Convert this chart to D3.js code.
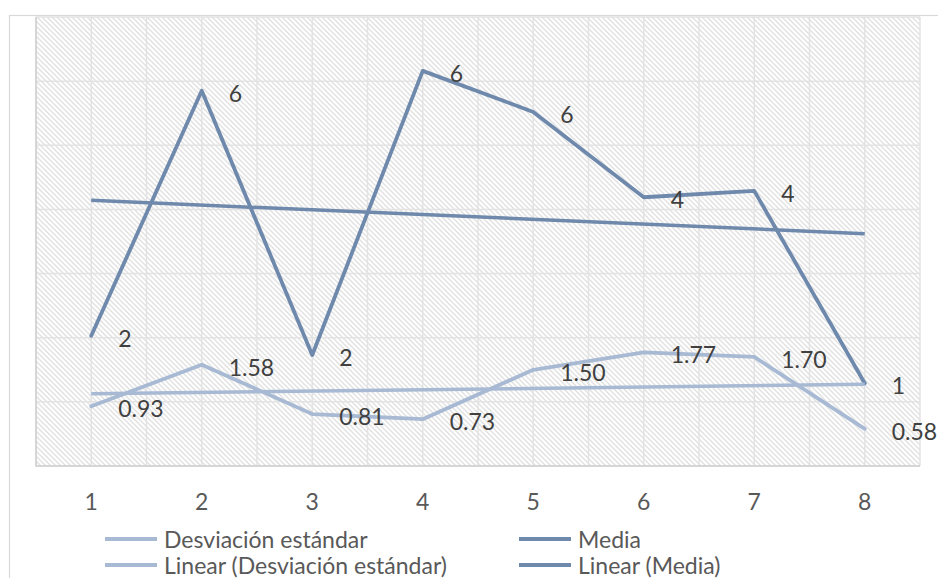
<!DOCTYPE html>
<html>
<head>
<meta charset="utf-8">
<script src="https://cdn.jsdelivr.net/npm/d3@7"></script>
<style>
  body { margin: 0; background: #fff; }
  svg { display: block; font-family: Lato, "Open Sans", sans-serif; }
</style>
</head>
<body>
<svg id="chart" width="938" height="578"></svg>
<script>
const categories = [1, 2, 3, 4, 5, 6, 7, 8]
const desviacion = [0.93, 1.58, 0.81, 0.73, 1.50, 1.77, 1.70, 0.58]
const media = [2.03, 5.85, 1.73, 6.16, 5.52, 4.19, 4.29, 1.29]
const yTicks = [0, 1, 2, 3, 4, 5, 6, 7]

const colorStd = "#a8b9d4"
const colorMedia = "#6e89ac"

const svg = d3.select("#chart")
const plot = {left: 36, right: 920, top: 17, bottom: 466}
const fontSize = 23

const x = d3.scaleBand().domain(categories).range([plot.left, plot.right]).paddingInner(0).paddingOuter(0)
const bw = x.bandwidth()
const cx = d => x(d) + bw / 2
const y = d3.scaleLinear().domain([0, 7]).range([plot.bottom, plot.top])

// chart border (runs off the picture on the right and bottom)
svg.append("rect")
    .attr("x", 9.5).attr("y", 15.5)
    .attr("width", 1000).attr("height", 1000)
    .attr("fill", "none").attr("stroke", "#d9d9d9").attr("stroke-width", 1.2)

// hatch pattern for the plot area
const defs = svg.append("defs")
const pat = defs.append("pattern")
    .attr("id", "hatch").attr("patternUnits", "userSpaceOnUse")
    .attr("width", 5).attr("height", 5)
pat.append("rect").attr("width", 5).attr("height", 5).attr("fill", "#fff")
pat.append("path")
    .attr("d", "M-1,-1 L6,6 M-1,4 L1,6 M4,-1 L6,1")
    .attr("stroke", "#e2e2e2").attr("stroke-width", 1.5)

svg.append("rect")
    .attr("x", plot.left).attr("y", plot.top)
    .attr("width", plot.right - plot.left).attr("height", plot.bottom - plot.top)
    .attr("fill", "url(#hatch)")

// gridlines
const grid = svg.append("g").attr("stroke", "#e3e3e3").attr("stroke-width", 1.5)
const vx = []
categories.forEach(c => { vx.push(x(c)); vx.push(cx(c)) })
vx.push(plot.right)
grid.selectAll("line.v").data(vx).enter().append("line")
    .attr("x1", d => d).attr("x2", d => d)
    .attr("y1", plot.top).attr("y2", plot.bottom)
grid.selectAll("line.h").data(yTicks).enter().append("line")
    .attr("x1", plot.left).attr("x2", plot.right)
    .attr("y1", d => y(d)).attr("y2", d => y(d))

// plot frame left/bottom
svg.append("path")
    .attr("d", `M${plot.left},${plot.top}V${plot.bottom}H${plot.right}`)
    .attr("fill", "none").attr("stroke", "#d0d0d0").attr("stroke-width", 1.5)

// category axis labels
svg.append("g").selectAll("text").data(categories).enter().append("text")
    .attr("x", d => cx(d)).attr("y", 501)
    .attr("text-anchor", "middle").attr("dominant-baseline", "central")
    .attr("font-size", fontSize).attr("fill", "#595959")
    .text(d => d)

// linear trend lines from least squares
function trend(values) {
    const n = values.length
    const mx = d3.mean(categories), my = d3.mean(values)
    let sxy = 0, sxx = 0
    categories.forEach((c, i) => { sxy += (c - mx) * (values[i] - my); sxx += (c - mx) * (c - mx) })
    const b = sxy / sxx, a = my - b * mx
    return [categories[0], categories[n - 1]].map(c => [c, a + b * c])
}

const line = d3.line().x(d => cx(d[0])).y(d => y(d[1]))

function drawSeries(values, color) {
    svg.append("path")
        .datum(categories.map((c, i) => [c, values[i]]))
        .attr("d", line)
        .attr("fill", "none").attr("stroke", color)
        .attr("stroke-width", 3.8).attr("stroke-linejoin", "round").attr("stroke-linecap", "round")
}
function drawTrend(values, color) {
    svg.append("path")
        .datum(trend(values))
        .attr("d", line)
        .attr("fill", "none").attr("stroke", color)
        .attr("stroke-width", 3.5)
}
function drawLabels(values, fmt) {
    svg.append("g").selectAll("text").data(values).enter().append("text")
        .attr("x", (d, i) => cx(categories[i]) + 27)
        .attr("y", d => y(d) + 2)
        .attr("dominant-baseline", "central")
        .attr("font-size", fontSize).attr("fill", "#404040")
        .text(fmt)
}

drawSeries(desviacion, colorStd)
drawSeries(media, colorMedia)
drawTrend(desviacion, colorStd)
drawTrend(media, colorMedia)
drawLabels(desviacion, d => d.toFixed(2))
drawLabels(media, d => d3.format(".0f")(d))

// legend
const legendItems = [
    {name: "Desviación estándar", color: colorStd, lx: 105, ly: 539},
    {name: "Media", color: colorMedia, lx: 519, ly: 539},
    {name: "Linear (Desviación estándar)", color: colorStd, lx: 105, ly: 565},
    {name: "Linear (Media)", color: colorMedia, lx: 519, ly: 565}
]
const lg = svg.append("g").selectAll("g").data(legendItems).enter().append("g")
lg.append("line")
    .attr("x1", d => d.lx).attr("x2", d => d.lx + 52)
    .attr("y1", d => d.ly).attr("y2", d => d.ly)
    .attr("stroke", d => d.color).attr("stroke-width", 3.8)
lg.append("text")
    .attr("x", d => d.lx + 59).attr("y", d => d.ly)
    .attr("dominant-baseline", "central")
    .attr("font-size", fontSize).attr("fill", "#595959")
    .text(d => d.name)
</script>
</body>
</html>
